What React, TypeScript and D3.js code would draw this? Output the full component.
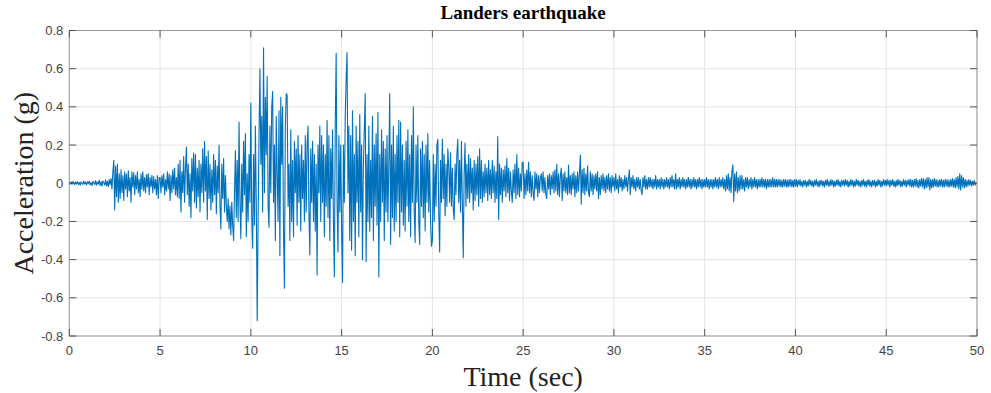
import React from "react";
import * as d3 from "d3";

const DT = 0.05;

// acceleration (g), 0.05 s spacing, one array per 5-second block
const acc0to5 = [
  0.005,-0.004,0.008,-0.006,0.010,0.002,-0.008,0.006,-0.003,0.009,
  -0.007,0.004,-0.010,0.007,0.001,-0.006,0.012,-0.004,0.006,-0.009,
  0.008,-0.002,0.011,-0.008,0.004,-0.012,0.010,0.003,-0.007,0.014,
  -0.010,0.006,-0.004,0.016,-0.012,0.008,-0.015,0.012,0.004,-0.010,
  0.018,-0.014,0.010,-0.018,0.020,-0.008,
  0.025,-0.03,0.06,0.12,-0.14,0.09,-0.07,0.10,-0.10,0.05,
  -0.08,0.07,-0.05,0.04,-0.09,0.06,-0.03,0.05,-0.07,0.065,-0.04,0.03,-0.10,0.06,
  -0.02,0.055,-0.06,0.04,-0.03,0.06,-0.05,0.02,-0.07,0.05,
  -0.03,0.06,-0.04,0.03,-0.05,0.045,-0.02,0.05,-0.06,0.03,
  -0.02,0.04,-0.05,0.035,-0.03,0.02,-0.06,0.04,-0.08,0.03,
];
const acc5to10 = [
  0.03,-0.05,0.04,-0.02,0.05,-0.06,0.02,-0.04,0.06,-0.03,
  0.05,-0.09,0.04,-0.05,0.07,-0.03,0.08,-0.06,0.03,-0.07,
  0.10,-0.08,0.12,-0.15,0.06,-0.05,0.14,-0.10,0.08,0.19,
  -0.06,0.10,-0.12,0.05,-0.18,0.13,-0.04,0.16,-0.10,0.15,
  -0.13,0.08,-0.07,0.12,-0.15,0.10,-0.05,0.18,-0.10,0.22,
  -0.04,0.14,-0.19,0.17,-0.08,0.10,-0.14,0.07,-0.10,0.15,
  -0.06,0.12,-0.16,0.09,-0.05,0.20,-0.12,-0.24,0.10,-0.08,
  0.13,-0.15,0.04,-0.12,-0.20,-0.08,-0.24,-0.12,-0.27,-0.10,
  -0.22,-0.30,-0.05,0.17,-0.18,0.12,-0.20,0.32,-0.10,-0.29,
  0.10,-0.15,0.22,-0.06,0.26,-0.28,0.05,-0.20,0.15,-0.10,
];
const acc10to15 = [
  0.42,-0.18,-0.34,0.15,-0.22,0.30,-0.10,-0.72,-0.20,0.25,
  0.60,0.10,0.35,-0.15,0.71,-0.05,0.45,0.15,0.56,-0.12,
  -0.23,0.30,-0.05,0.40,0.48,-0.10,0.20,-0.30,0.35,0.05,
  -0.20,0.38,-0.38,0.45,0.10,0.40,-0.25,-0.55,0.30,0.47,
  0.46,-0.12,0.10,-0.30,0.28,-0.20,0.12,-0.28,0.22,-0.05,
  0.18,-0.22,0.25,-0.10,0.15,-0.25,0.20,-0.08,0.12,-0.20,
  0.25,-0.15,0.20,0.30,-0.15,-0.375,0.18,-0.10,0.22,-0.20,
  0.15,-0.25,0.10,-0.48,0.20,-0.05,0.30,-0.20,0.25,-0.10,
  0.20,-0.28,0.15,-0.12,0.33,-0.18,0.25,-0.30,0.18,-0.08,
  0.28,-0.20,-0.49,0.30,0.68,-0.10,-0.36,0.25,-0.15,0.20,
];
const acc15to20 = [
  -0.25,-0.52,0.20,-0.10,0.35,0.55,0.685,-0.05,0.30,-0.30,
  0.25,-0.35,0.38,-0.20,0.15,-0.38,0.30,-0.10,0.22,-0.28,
  0.36,-0.15,0.20,-0.40,0.10,0.28,0.47,-0.41,0.15,-0.20,
  0.30,-0.25,0.12,-0.18,0.35,-0.30,0.20,-0.12,0.26,-0.22,
  0.37,-0.49,0.15,-0.20,0.28,-0.10,0.22,-0.30,0.18,-0.15,
  0.25,-0.20,0.10,0.47,-0.32,0.20,-0.18,0.30,-0.25,0.15,
  -0.20,0.25,-0.10,0.33,-0.28,0.32,-0.15,0.20,-0.22,0.12,
  -0.25,0.22,-0.12,0.28,-0.20,0.15,-0.28,0.25,-0.10,0.40,
  -0.15,-0.31,0.20,-0.10,0.25,-0.20,-0.32,0.18,-0.12,0.22,
  -0.18,0.15,-0.25,0.20,-0.10,0.26,-0.15,0.12,-0.20,-0.33,
];
const acc20to25 = [
  -0.30,0.15,-0.20,0.10,-0.12,0.20,0.23,-0.15,-0.36,0.12,
  -0.10,0.23,-0.08,0.15,-0.17,0.10,-0.12,0.18,0.09,-0.10,
  0.16,-0.12,0.08,-0.14,-0.19,0.10,-0.06,0.15,0.23,-0.10,
  0.12,-0.15,0.22,-0.10,-0.39,0.05,0.21,-0.12,0.10,-0.08,
  0.15,-0.10,0.13,-0.05,0.08,-0.14,0.12,-0.09,0.10,-0.06,
  0.14,-0.12,0.18,-0.08,0.12,-0.10,0.06,-0.07,0.10,-0.05,
  0.08,-0.09,0.12,-0.06,0.07,-0.08,0.12,-0.05,0.09,-0.10,
  0.06,-0.08,0.245,-0.19,0.10,-0.06,0.08,-0.10,0.07,-0.04,
  0.09,-0.07,0.13,-0.05,0.08,-0.09,0.06,-0.04,-0.10,0.07,
  -0.05,0.10,-0.08,0.15,-0.06,0.08,-0.07,0.05,-0.04,0.11,
];
const acc25to30 = [
  0.11,-0.08,0.05,-0.06,0.07,-0.04,0.11,-0.05,0.06,-0.07,
  0.04,-0.05,-0.09,0.06,-0.03,0.05,-0.07,0.04,-0.05,0.03,
  0.05,-0.04,0.06,-0.05,0.03,-0.06,-0.08,0.04,-0.03,0.05,
  -0.06,0.04,-0.03,0.06,-0.05,0.07,-0.04,0.10,-0.06,0.05,
  -0.07,0.04,0.08,-0.09,0.05,-0.04,0.06,-0.05,0.03,-0.06,
  0.095,-0.05,0.04,-0.06,0.05,-0.03,0.06,-0.07,0.04,-0.05,
  0.06,-0.04,0.05,0.148,-0.11,0.07,-0.05,0.08,-0.06,0.05,
  -0.04,0.09,-0.05,-0.07,0.06,-0.04,0.05,-0.06,0.04,-0.03,
  0.05,-0.04,0.06,-0.08,0.03,-0.06,0.04,-0.03,0.05,-0.04,
  0.03,-0.05,0.04,-0.03,0.05,-0.04,0.03,-0.05,0.04,-0.02,
];
const acc30to35 = [
  0.03,-0.04,0.05,-0.03,0.02,-0.05,0.04,-0.02,0.03,-0.04,
  0.02,-0.03,0.04,-0.02,0.03,-0.04,0.02,0.07,-0.06,0.03,
  -0.02,0.04,-0.03,0.02,-0.04,0.03,-0.02,0.03,-0.03,0.02,
  -0.04,-0.06,0.03,-0.02,0.04,-0.03,0.02,-0.03,0.03,-0.02,
  0.03,-0.02,0.02,-0.03,0.02,-0.02,0.04,-0.03,0.02,-0.02,
  0.02,-0.03,0.03,-0.02,0.02,-0.03,0.02,-0.02,0.03,-0.02,
  0.02,-0.03,0.03,-0.02,0.04,-0.02,0.02,-0.03,0.05,-0.03,
  0.02,-0.02,0.03,-0.03,0.02,-0.02,0.03,-0.02,0.02,-0.03,
  0.02,-0.02,0.03,-0.02,0.02,-0.03,0.02,-0.02,0.03,-0.02,
  0.02,-0.03,0.02,-0.02,0.03,-0.02,0.02,-0.03,0.02,-0.02,
];
const acc35to40 = [
  0.02,-0.02,0.03,-0.02,0.02,-0.03,0.02,-0.02,0.02,-0.03,
  0.02,-0.02,0.03,-0.02,0.02,-0.03,0.03,-0.02,0.02,-0.02,
  0.03,-0.03,0.02,-0.04,0.04,-0.03,0.05,-0.04,0.03,-0.05,
  0.06,0.096,-0.096,0.05,-0.04,0.06,-0.05,0.03,-0.04,0.04,
  -0.03,0.04,-0.03,0.02,-0.04,0.03,-0.02,0.03,-0.03,0.02,
  -0.02,0.03,-0.03,0.02,-0.02,0.03,-0.02,0.02,-0.03,0.02,
  -0.02,0.02,-0.02,0.03,-0.02,0.02,-0.02,0.02,-0.03,0.02,
  -0.02,0.02,-0.02,0.02,-0.02,0.03,-0.02,0.02,-0.02,0.02,
  -0.02,0.02,-0.015,0.02,-0.02,0.015,-0.02,0.02,-0.015,0.02,
  -0.02,0.015,-0.02,0.02,-0.015,0.02,-0.02,0.015,-0.02,0.02,
];
const acc40to45 = [
  -0.015,0.02,-0.02,0.015,-0.01,0.02,-0.015,0.01,-0.02,0.015,
  -0.01,0.015,-0.02,0.01,-0.015,0.02,-0.01,0.015,-0.015,0.01,
  -0.02,0.015,-0.01,0.02,-0.015,0.01,-0.02,0.015,-0.01,0.015,
  -0.015,0.01,-0.02,0.015,-0.01,0.02,-0.015,0.01,-0.015,0.02,
  -0.01,0.015,-0.02,0.01,-0.015,0.015,-0.01,0.02,-0.015,0.01,
  -0.02,0.015,-0.01,0.015,-0.015,0.02,-0.01,0.015,-0.02,0.01,
  -0.015,0.02,-0.01,0.015,-0.02,0.01,-0.015,0.02,-0.01,0.015,
  -0.015,0.01,-0.02,0.015,-0.01,0.02,-0.015,0.01,-0.02,0.015,
  -0.01,0.02,-0.015,0.01,-0.02,0.015,-0.01,0.015,-0.02,0.01,
  -0.015,0.02,-0.01,0.015,-0.02,0.01,-0.015,0.02,-0.01,0.015,
];
const acc45to50 = [
  -0.015,0.02,-0.01,0.015,-0.02,0.015,-0.01,0.02,-0.015,0.01,
  -0.02,0.015,-0.015,0.02,-0.01,0.015,-0.02,0.01,-0.015,0.02,
  -0.01,0.015,-0.02,0.015,-0.01,0.02,-0.015,0.02,-0.02,0.015,
  -0.02,0.02,-0.015,0.025,-0.02,0.015,-0.025,0.02,-0.015,0.025,
  -0.02,0.025,-0.03,0.02,-0.025,0.03,-0.02,0.03,-0.035,0.02,
  -0.025,0.02,-0.02,0.025,-0.015,0.02,-0.02,0.015,-0.02,0.02,
  -0.015,0.02,-0.02,0.015,-0.02,0.02,-0.015,0.02,-0.02,0.015,
  -0.02,0.02,-0.015,0.025,-0.02,0.02,-0.025,0.03,-0.02,0.035,
  -0.03,0.05,-0.035,0.04,-0.02,0.03,-0.025,0.02,-0.02,0.015,
  -0.015,0.02,-0.01,0.015,-0.015,0.01,-0.01,0.015,-0.01,0.005,
];

const xTicks = [0, 5, 10, 15, 20, 25, 30, 35, 40, 45, 50];
const yTicks = [-0.8, -0.6, -0.4, -0.2, 0, 0.2, 0.4, 0.6, 0.8];
const TITLE = "Landers earthquake";
const XLABEL = "Time (sec)";
const YLABEL = "Acceleration (g)";

const W = 991;
const H = 393;
const M = { left: 69.3, right: 977, top: 30.5, bottom: 336 };

export default function App() {
  const acc = [
    ...acc0to5, ...acc5to10, ...acc10to15, ...acc15to20, ...acc20to25,
    ...acc25to30, ...acc30to35, ...acc35to40, ...acc40to45, ...acc45to50,
  ];
  const pts = acc.map((v, i) => [i * DT, v] as [number, number]);

  const x = d3.scaleLinear().domain([0, 50]).range([M.left, M.right]);
  const y = d3.scaleLinear().domain([-0.8, 0.8]).range([M.bottom, M.top]);
  const line = d3.line<[number, number]>().x(d => x(d[0])).y(d => y(d[1]));

  const fmtY = (v: number) => (v === 0 ? "0" : String(Math.round(v * 10) / 10));
  const tickLen = 7;
  const labelFont = "'Liberation Sans', Arial, sans-serif";
  const serif = "'Liberation Serif', 'Times New Roman', serif";

  return (
    <svg width={W} height={H} style={{ position: "absolute", left: 0, top: 0, background: "#fff" }}>
      <rect x={0} y={0} width={W} height={H} fill="#fff" />
      {/* grid */}
      <g stroke="#e3e3e3" strokeWidth={1}>
        {xTicks.map(t => (
          <line key={"gx" + t} x1={x(t)} x2={x(t)} y1={M.top} y2={M.bottom} />
        ))}
        {yTicks.map(t => (
          <line key={"gy" + t} x1={M.left} x2={M.right} y1={y(t)} y2={y(t)} />
        ))}
      </g>
      {/* signal */}
      <path d={line(pts) || ""} fill="none" stroke="#0072BD" strokeWidth={1.1} strokeLinejoin="round" />
      {/* box */}
      <rect x={M.left} y={M.top} width={M.right - M.left} height={M.bottom - M.top}
        fill="none" stroke="#9a9a9a" strokeWidth={1} />
      {/* ticks */}
      <g stroke="#555" strokeWidth={1}>
        {xTicks.map(t => (
          <g key={"tx" + t}>
            <line x1={x(t)} x2={x(t)} y1={M.bottom} y2={M.bottom - tickLen} />
            <line x1={x(t)} x2={x(t)} y1={M.top} y2={M.top + tickLen} />
          </g>
        ))}
        {yTicks.map(t => (
          <g key={"ty" + t}>
            <line x1={M.left} x2={M.left + tickLen} y1={y(t)} y2={y(t)} />
            <line x1={M.right} x2={M.right - tickLen} y1={y(t)} y2={y(t)} />
          </g>
        ))}
      </g>
      {/* tick labels */}
      <g fontFamily={labelFont} fontSize={13} fill="#444">
        {xTicks.map(t => (
          <text key={"lx" + t} x={x(t)} y={M.bottom + 19} textAnchor="middle">{t}</text>
        ))}
        {yTicks.map(t => (
          <text key={"ly" + t} x={M.left - 6} y={y(t) + 4.5} textAnchor="end">{fmtY(t)}</text>
        ))}
      </g>
      {/* title and axis labels */}
      <text x={(M.left + M.right) / 2} y={19} textAnchor="middle" fontFamily={serif}
        fontWeight="bold" fontSize={19} fill="#000">{TITLE}</text>
      <text x={(M.left + M.right) / 2} y={386} textAnchor="middle" fontFamily={serif}
        fontSize={28} fill="#222">{XLABEL}</text>
      <text transform={`translate(33, ${(M.top + M.bottom) / 2}) rotate(-90)`} textAnchor="middle"
        fontFamily={serif} fontSize={28} fill="#222">{YLABEL}</text>
    </svg>
  );
}
